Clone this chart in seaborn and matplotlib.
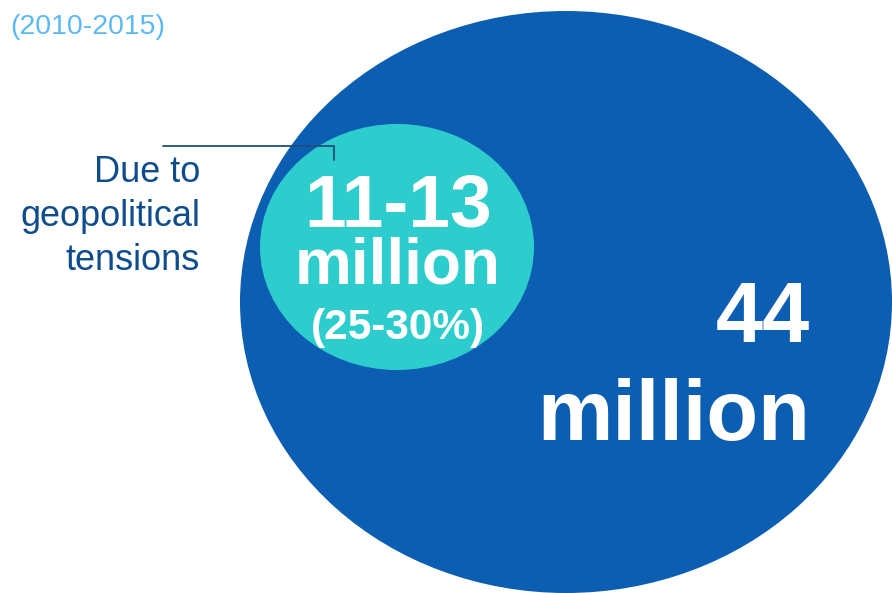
import matplotlib
matplotlib.use("Agg")
import matplotlib.pyplot as plt
from matplotlib.patches import Ellipse
import seaborn as sns

# Values shown on the chart
total_label = ["44", "million"]
subset_label = ["11-13", "million"]
subset_share = "(25-30%)"
period = "(2010-2015)"
cause_label = ["Due to", "geopolitical", "tensions"]

sns.set_theme(style="white")
plt.rcParams["font.family"] = ["Liberation Sans", "DejaVu Sans"]

BIG = "#0B5EB2"
TEAL = "#2ECDCD"
DARK = "#0E4C8C"
LIGHT = "#5BBAF5"

fig = plt.figure(figsize=(8.92, 5.93), dpi=100)
ax = fig.add_axes([0, 0, 1, 1])
ax.set_xlim(0, 892)
ax.set_ylim(593, 0)
ax.axis("off")

# Total and subset circles
ax.add_patch(Ellipse((566, 302), 652, 582, color=BIG, lw=0, zorder=1))
ax.add_patch(Ellipse((397, 247), 274, 246, color=TEAL, lw=0, zorder=2))

# Leader line from the side label to the subset circle
ax.plot([163, 334, 334], [146, 146, 160], color="#1F4E79", lw=1.3,
        solid_joinstyle="miter", zorder=3)

# Side labels
ax.text(10, 27, period, color=LIGHT, fontsize=20.5, ha="left", va="center")
for i, line in enumerate(cause_label):
    ax.text(200, 173 + 44 * i, line, color=DARK, fontsize=26,
            ha="right", va="center")

# Subset circle text
ax.text(398, 207, subset_label[0], color="white", fontsize=54,
        fontweight="bold", ha="center", va="center", zorder=4)
ax.text(398, 267, subset_label[1], color="white", fontsize=46,
        fontweight="bold", ha="center", va="center", zorder=4)
ax.text(398, 328, subset_share, color="white", fontsize=30.5,
        fontweight="bold", ha="center", va="center", zorder=4)

# Total circle text
ax.text(810, 320, total_label[0], color="white", fontsize=61,
        fontweight="bold", ha="right", va="center", zorder=4)
ax.text(810, 418, total_label[1], color="white", fontsize=61,
        fontweight="bold", ha="right", va="center", zorder=4)

fig.savefig("out.png", dpi=100)
